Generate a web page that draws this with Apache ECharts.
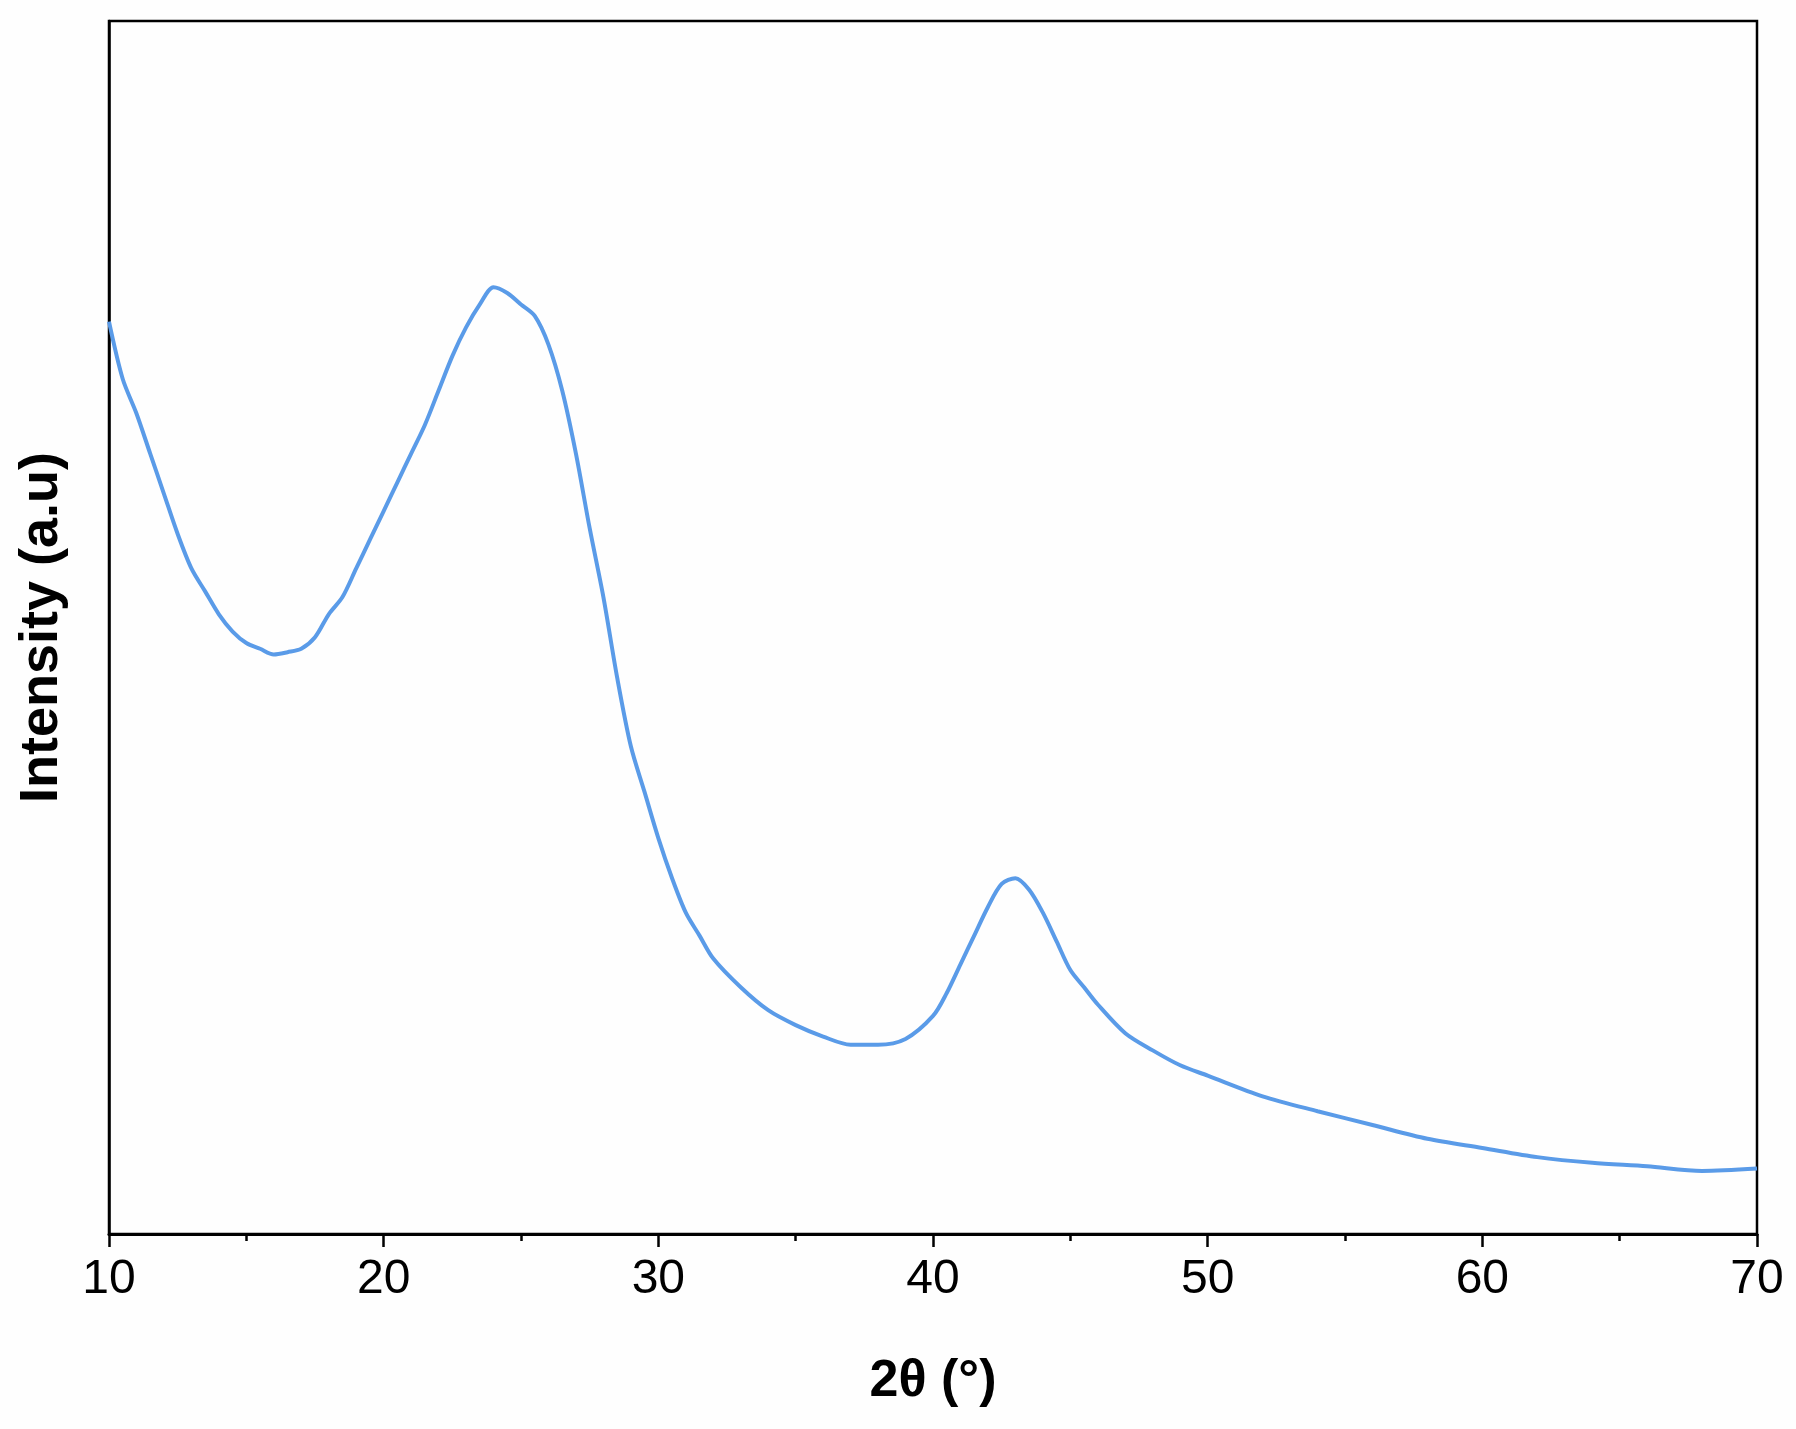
<!DOCTYPE html>
<html><head><meta charset="utf-8">
<script src="https://cdn.jsdelivr.net/npm/echarts@6/dist/echarts.min.js"></script>
<style>html,body{margin:0;padding:0;background:#fff}#c{width:1796px;height:1429px}</style>
</head><body><div id="c"></div>
<script>
// 2theta (deg) and intensity (a.u., arbitrary scale)
const twoTheta = [10,10.5,11,11.5,12,12.5,13,13.5,14,14.5,15,15.5,16,16.5,17,17.5,18,18.5,19,19.5,20,20.5,21,21.5,22,22.5,23,23.5,24,24.5,25,25.5,26,26.5,27,27.5,28,28.5,29,29.5,30,30.5,31,31.5,32,33,34,35,36,37,38,39,40,40.5,41,41.5,42,42.5,43,43.5,44,44.5,45,45.5,46,47,48,49,50,52,54,56,58,60,62,64,66,68,70];
const yPix = [280,330,360,395,430,465,495,515,535,550,560,565,570,568,565,555,535,520,495,470,445,420,395,370,340,310,285,265,250,255,265,275,300,340,395,460,520,590,650,690,730,765,795,815,835,860,880,893,903,910,910,905,885,865,840,815,790,770,765,775,795,820,845,860,875,900,915,928,937,955,968,980,992,1000,1008,1013,1016,1020,1018];
const intensity = yPix.map(v => 1075 - v);

const chart = echarts.init(document.getElementById('c'));
const font = 'Liberation Sans, Arial, sans-serif';
chart.setOption({
  backgroundColor: '#fefefe',
  animation: false,
  grid: { left: 109, right: 39, top: 21, bottom: 195, show: true, borderColor: '#000', borderWidth: 2.5 },
  xAxis: {
    type: 'value', min: 10, max: 70, interval: 10,
    axisLine: { lineStyle: { color: '#000', width: 3 } },
    axisTick: { inside: false, length: 13, lineStyle: { color: '#000', width: 2.5 } },
    minorTick: { show: true, splitNumber: 2, length: 7, lineStyle: { color: '#000', width: 2.5 } },
    splitLine: { show: false },
    axisLabel: { color: '#000', fontSize: 48, fontFamily: font, margin: 22 },
    name: '2θ (°)', nameLocation: 'middle', nameGap: 122,
    nameTextStyle: { color: '#000', fontSize: 52, fontWeight: 'bold', fontFamily: font }
  },
  yAxis: {
    type: 'value', min: 0, max: 1057,
    axisLine: { show: true, lineStyle: { color: '#000', width: 2.5 } },
    axisTick: { show: false }, axisLabel: { show: false }, splitLine: { show: false },
    name: 'Intensity (a.u)', nameLocation: 'middle', nameGap: 40,
    nameTextStyle: { color: '#000', fontSize: 54, fontWeight: 'bold', fontFamily: font }
  },
  series: [{
    type: 'line', data: twoTheta.map((x, i) => [x, intensity[i]]),
    showSymbol: false, smooth: 0.3,
    lineStyle: { color: '#5a9be8', width: 4 }
  }]
});
</script></body></html>
